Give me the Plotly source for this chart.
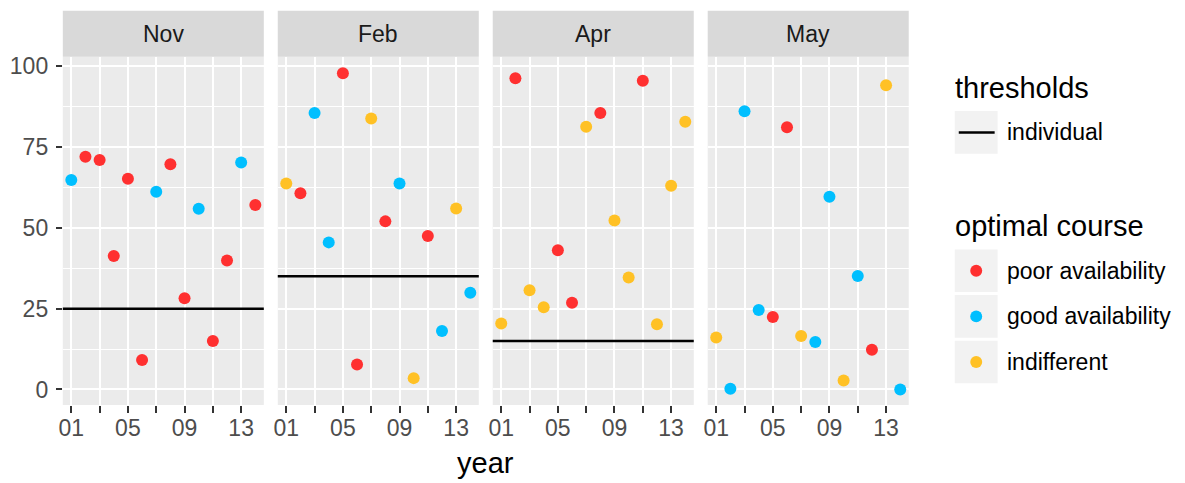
import plotly.graph_objects as go

W, H = 1185, 483

months = ["Nov", "Feb", "Apr", "May"]
years = ["01", "02", "03", "04", "05", "06", "07", "08", "09", "10", "11", "12", "13", "14"]
year_ticks = ["01", "03", "05", "07", "09", "11", "13"]
year_labels = ["01", "", "05", "", "09", "", "13"]

nov_values = [64.8, 72.0, 71.0, 41.3, 65.2, 9.1, 61.2, 69.7, 28.2, 55.9, 15.0, 39.9, 70.2, 57.1]
nov_course = ["good", "poor", "poor", "poor", "poor", "poor", "good", "poor", "poor", "good", "poor", "poor", "good", "poor"]
feb_values = [63.7, 60.7, 85.5, 45.5, 97.8, 7.7, 83.8, 52.0, 63.7, 3.5, 47.5, 18.1, 56.0, 29.9]
feb_course = ["indifferent", "poor", "good", "good", "poor", "poor", "indifferent", "poor", "good", "indifferent", "poor", "good", "indifferent", "good"]
apr_values = [20.4, 96.3, 30.7, 25.4, 43.1, 26.8, 81.3, 85.5, 52.3, 34.6, 95.5, 20.2, 63.0, 82.8]
apr_course = ["indifferent", "poor", "indifferent", "indifferent", "poor", "poor", "indifferent", "poor", "indifferent", "indifferent", "poor", "indifferent", "indifferent", "indifferent"]
may_values = [16.1, 0.2, 86.1, 24.6, 22.4, 81.1, 16.5, 14.7, 59.6, 2.8, 35.1, 12.3, 94.1, 0.0]
may_course = ["indifferent", "good", "good", "good", "poor", "poor", "indifferent", "good", "good", "indifferent", "good", "poor", "indifferent", "good"]

thresholds = {"Nov": 25, "Feb": 35, "Apr": 15, "May": None}

course_names = ["poor", "good", "indifferent"]
course_labels = ["poor availability", "good availability", "indifferent"]
course_colors = {"poor": "#FF3030", "good": "#00BFFF", "indifferent": "#FFC125"}

panel_values = [nov_values, feb_values, apr_values, may_values]
panel_course = [nov_course, feb_course, apr_course, may_course]

FONT = "Liberation Sans, Arial, sans-serif"


def px(x):
    return x / W


def py(y):
    return 1 - y / H


# panel geometry in pixels
left0, pw, gap = 59.0, 201.7, 14.0
top, bottom = 53.3, 404.3
strip_top = 6.7

fig = go.Figure()
shapes = []
annotations = []

for i, m in enumerate(months):
    n = "" if i == 0 else str(i + 1)
    x0 = left0 + i * (pw + gap)
    x1 = x0 + pw
    fig.add_trace(go.Scatter(
        x=years, y=panel_values[i], mode="markers",
        marker=dict(size=12, color=[course_colors[c] for c in panel_course[i]], line=dict(width=0)),
        xaxis="x" + n, yaxis="y" + n, showlegend=False, hoverinfo="x+y",
    ))
    fig.update_layout({
        "xaxis" + n: dict(
            domain=[px(x0), px(x1)], anchor="y" + n, type="category",
            categoryorder="array", categoryarray=years, range=[-0.6, 13.6],
            tickmode="array", tickvals=year_ticks, ticktext=year_labels,
            showgrid=True, gridcolor="white", gridwidth=2.2, zeroline=False,
            ticks="outside", ticklen=7, tickwidth=2.2, tickcolor="#333333",
            ticklabelstandoff=-5,
            tickfont=dict(size=23, color="#4D4D4D", family=FONT), showline=False,
        ),
        "yaxis" + n: dict(
            domain=[py(bottom), py(top)], anchor="x" + n, range=[-4.8, 102.9],
            tickmode="array", tickvals=[0, 25, 50, 75, 100],
            showticklabels=(i == 0), ticks="outside" if i == 0 else "",
            ticklen=6, tickwidth=2.2, tickcolor="#333333", ticklabelstandoff=3,
            tickfont=dict(size=23, color="#4D4D4D", family=FONT),
            showgrid=True, gridcolor="white", gridwidth=2.2, zeroline=False,
            minor=dict(tickvals=[12.5, 37.5, 62.5, 87.5], showgrid=True,
                       gridcolor="white", gridwidth=1.1, ticks=""),
        ),
    })
    # facet strip
    shapes.append(dict(type="rect", xref="paper", yref="paper",
                       x0=px(x0), x1=px(x1), y0=py(top), y1=py(strip_top),
                       fillcolor="#D9D9D9", line=dict(width=0), layer="below"))
    annotations.append(dict(text=m, xref="paper", yref="paper",
                            x=px((x0 + x1) / 2), y=py((top + strip_top) / 2),
                            xanchor="center", yanchor="middle", showarrow=False,
                            font=dict(size=23, color="#1A1A1A", family=FONT)))
    t = thresholds[m]
    if t is not None:
        shapes.append(dict(type="line", xref="x" + n + " domain", yref="y" + n,
                           x0=0, x1=1, y0=t, y1=t, line=dict(color="black", width=2.5)))

# axis title
annotations.append(dict(text="year", xref="paper", yref="paper",
                        x=px(483.4), y=py(463), xanchor="center", yanchor="middle",
                        showarrow=False, font=dict(size=29, color="black", family=FONT)))

# legend drawn by hand so the keys match ggplot's layout
key_x0, key_x1 = 954, 997
key_cx = (key_x0 + key_x1) / 2
text_x = 1004
legend_title_font = dict(size=29, color="black", family=FONT)
legend_text_font = dict(size=23, color="black", family=FONT)


def key_box(cy):
    return dict(type="rect", xref="paper", yref="paper", x0=px(key_x0), x1=px(key_x1),
                y0=py(cy + 21.5), y1=py(cy - 21.5), fillcolor="#F2F2F2",
                line=dict(width=0), layer="above")


annotations.append(dict(text="thresholds", xref="paper", yref="paper", x=px(952), y=py(85),
                        xanchor="left", yanchor="middle", showarrow=False, font=legend_title_font))
shapes.append(key_box(129.5))
shapes.append(dict(type="line", xref="paper", yref="paper", x0=px(958), x1=px(994),
                   y0=py(129.5), y1=py(129.5), line=dict(color="black", width=2.5)))
annotations.append(dict(text="individual", xref="paper", yref="paper", x=px(text_x), y=py(129.5),
                        xanchor="left", yanchor="middle", showarrow=False, font=legend_text_font))

annotations.append(dict(text="optimal course", xref="paper", yref="paper", x=px(952), y=py(224),
                        xanchor="left", yanchor="middle", showarrow=False, font=legend_title_font))
key_centers = [269, 315, 361]
for c, lab, cy in zip(course_names, course_labels, key_centers):
    shapes.append(key_box(cy))
    shapes.append(dict(type="circle", xref="paper", yref="paper",
                       x0=px(key_cx - 6), x1=px(key_cx + 6), y0=py(cy + 6), y1=py(cy - 6),
                       fillcolor=course_colors[c], line=dict(width=0)))
    annotations.append(dict(text=lab, xref="paper", yref="paper", x=px(text_x), y=py(cy),
                            xanchor="left", yanchor="middle", showarrow=False, font=legend_text_font))

fig.update_layout(
    width=W, height=H,
    margin=dict(l=0, r=0, t=0, b=0),
    paper_bgcolor="white", plot_bgcolor="#EBEBEB",
    font=dict(family=FONT),
    shapes=shapes, annotations=annotations,
    showlegend=False,
)

fig.write_html("out.html", config={"displayModeBar": False},
               post_script="document.body.style.margin='0';")
